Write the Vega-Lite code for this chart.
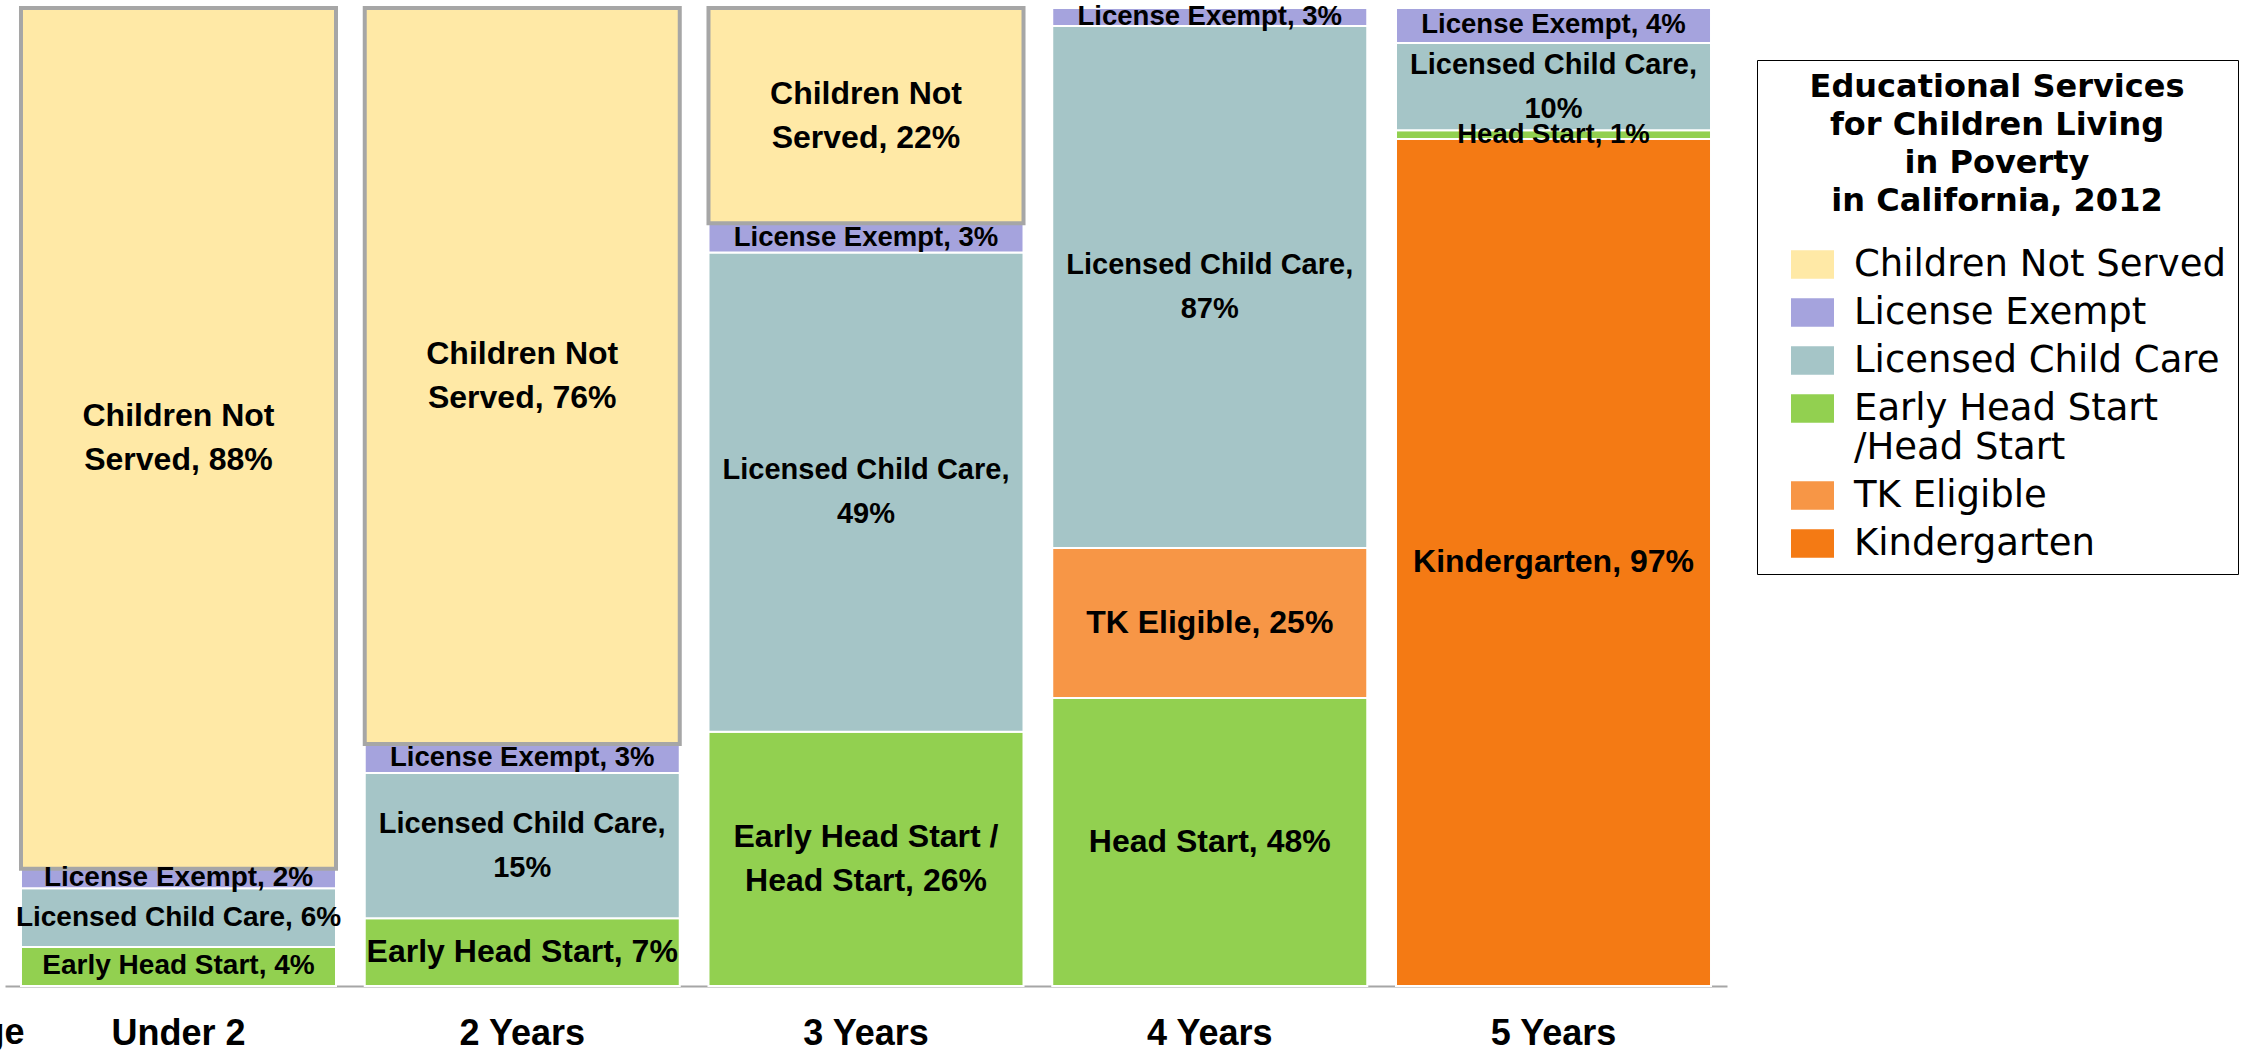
{
  "$schema": "https://vega.github.io/schema/vega-lite/v6.json",
  "autosize": {"type": "none"},
  "padding": {"left": 5, "top": 8, "right": 539, "bottom": 65},
  "width": 1722,
  "height": 978,
  "background": "white",
  "config": {"view": {"stroke": null}},
  "data": {
    "values": [
      {"age": "Under 2", "service": "Early Head Start /Head Start", "order": 1, "value": 4, "label": "Early Head Start, 4%"},
      {"age": "Under 2", "service": "Licensed Child Care", "order": 3, "value": 6, "label": "Licensed Child Care, 6%"},
      {"age": "Under 2", "service": "License Exempt", "order": 4, "value": 2, "label": "License Exempt, 2%"},
      {"age": "Under 2", "service": "Children Not Served", "order": 5, "value": 88, "label": "Children Not\nServed, 88%"},
      {"age": "2 Years", "service": "Early Head Start /Head Start", "order": 1, "value": 7, "label": "Early Head Start, 7%"},
      {"age": "2 Years", "service": "Licensed Child Care", "order": 3, "value": 15, "label": "Licensed Child Care,\n15%"},
      {"age": "2 Years", "service": "License Exempt", "order": 4, "value": 3, "label": "License Exempt, 3%"},
      {"age": "2 Years", "service": "Children Not Served", "order": 5, "value": 76, "label": "Children Not\nServed, 76%"},
      {"age": "3 Years", "service": "Early Head Start /Head Start", "order": 1, "value": 26, "label": "Early Head Start /\nHead Start, 26%"},
      {"age": "3 Years", "service": "Licensed Child Care", "order": 3, "value": 49, "label": "Licensed Child Care,\n49%"},
      {"age": "3 Years", "service": "License Exempt", "order": 4, "value": 3, "label": "License Exempt, 3%"},
      {"age": "3 Years", "service": "Children Not Served", "order": 5, "value": 22, "label": "Children Not\nServed, 22%"},
      {"age": "4 Years", "service": "Early Head Start /Head Start", "order": 1, "value": 48, "label": "Head Start, 48%"},
      {"age": "4 Years", "service": "TK Eligible", "order": 2, "value": 25, "label": "TK Eligible, 25%"},
      {"age": "4 Years", "service": "Licensed Child Care", "order": 3, "value": 87, "label": "Licensed Child Care,\n87%"},
      {"age": "4 Years", "service": "License Exempt", "order": 4, "value": 3, "label": "License Exempt, 3%"},
      {"age": "5 Years", "service": "Kindergarten", "order": 0, "value": 97, "label": "Kindergarten, 97%"},
      {"age": "5 Years", "service": "Early Head Start /Head Start", "order": 1, "value": 1, "label": "Head Start, 1%"},
      {"age": "5 Years", "service": "Licensed Child Care", "order": 3, "value": 10, "label": "Licensed Child Care,\n10%"},
      {"age": "5 Years", "service": "License Exempt", "order": 4, "value": 4, "label": "License Exempt, 4%"}
    ]
  },
  "encoding": {
    "x": {
      "field": "age",
      "type": "nominal",
      "sort": ["Under 2", "2 Years", "3 Years", "4 Years", "5 Years"],
      "scale": {"paddingInner": 0.0836, "paddingOuter": 0.0465},
      "axis": {
        "title": "Age",
        "titleX": 19,
        "titleY": 46,
        "titleAlign": "right",
        "titleBaseline": "middle",
        "titleFont": "Liberation Sans",
        "titleFontSize": 36,
        "titleFontWeight": "bold",
        "titleColor": "black",
        "labelFont": "Liberation Sans",
        "labelFontSize": 36,
        "labelFontWeight": "bold",
        "labelColor": "black",
        "labelAngle": 0,
        "labelPadding": 30,
        "ticks": false,
        "domainColor": "#A6A6A6",
        "domainWidth": 2
      }
    },
    "order": {"field": "order", "type": "quantitative"}
  },
  "layer": [
    {
      "mark": {"type": "bar"},
      "encoding": {
        "y": {"field": "value", "type": "quantitative", "stack": "normalize", "axis": null},
        "color": {
          "field": "service",
          "type": "nominal",
          "scale": {
            "domain": ["Children Not Served", "License Exempt", "Licensed Child Care", "Early Head Start /Head Start", "TK Eligible", "Kindergarten"],
            "range": ["#FFE9A6", "#A5A3DD", "#A5C5C7", "#92D050", "#F79646", "#F47A14"]
          },
          "legend": {
            "title": ["Educational Services", "for Children Living", "in Poverty", "in California, 2012"],
            "orient": "none",
            "legendX": 1752,
            "legendY": 52,
            "titleFont": "DejaVu Sans",
            "titleFontSize": 32,
            "titleFontWeight": "bold",
            "titleColor": "black",
            "titleAlign": "center",
            "titleAnchor": "middle",
            "titleLineHeight": 38,
            "titlePadding": 28,
            "titleLimit": 700,
            "labelFont": "DejaVu Sans",
            "labelFontSize": 37,
            "labelColor": "black",
            "labelLimit": 700,
            "labelOffset": 23,
            "labelExpr": "datum.label == 'Early Head Start /Head Start' ? ['Early Head Start', '/Head Start'] : datum.label",
            "symbolType": "M-1.5,-1H1.5V1H-1.5Z",
            "symbolSize": 822,
            "symbolStrokeWidth": 0,
            "symbolOffset": 25,
            "rowPadding": 10,
            "padding": 12,
            "strokeColor": "black",
            "fillColor": "white"
          }
        },
        "stroke": {"condition": {"test": "datum.service === 'Children Not Served'", "value": "#A6A6A6"}, "value": "white"},
        "strokeWidth": {"condition": {"test": "datum.service === 'Children Not Served'", "value": 4}, "value": 2}
      }
    },
    {
      "mark": {
        "type": "text",
        "font": "Liberation Sans",
        "fontWeight": "bold",
        "lineBreak": "\n",
        "lineHeight": 44,
        "baseline": "middle",
        "align": "center",
        "color": "black",
        "dy": {"expr": "indexof(datum.label, '\\n') >= 0 ? -22 : 0"}
      },
      "encoding": {
        "y": {"field": "value", "type": "quantitative", "stack": "normalize", "bandPosition": 0.5},
        "detail": {"field": "service", "type": "nominal"},
        "text": {"field": "label", "type": "nominal"},
        "size": {
          "condition": [
            {"test": "datum.age === 'Under 2' && datum.service !== 'Children Not Served'", "value": 28},
            {"test": "datum.service === 'License Exempt'", "value": 27.5},
            {"test": "datum.service === 'Licensed Child Care'", "value": 29},
            {"test": "datum.age === '5 Years' && datum.service === 'Early Head Start /Head Start'", "value": 27.5}
          ],
          "value": 32
        }
      }
    }
  ]
}
